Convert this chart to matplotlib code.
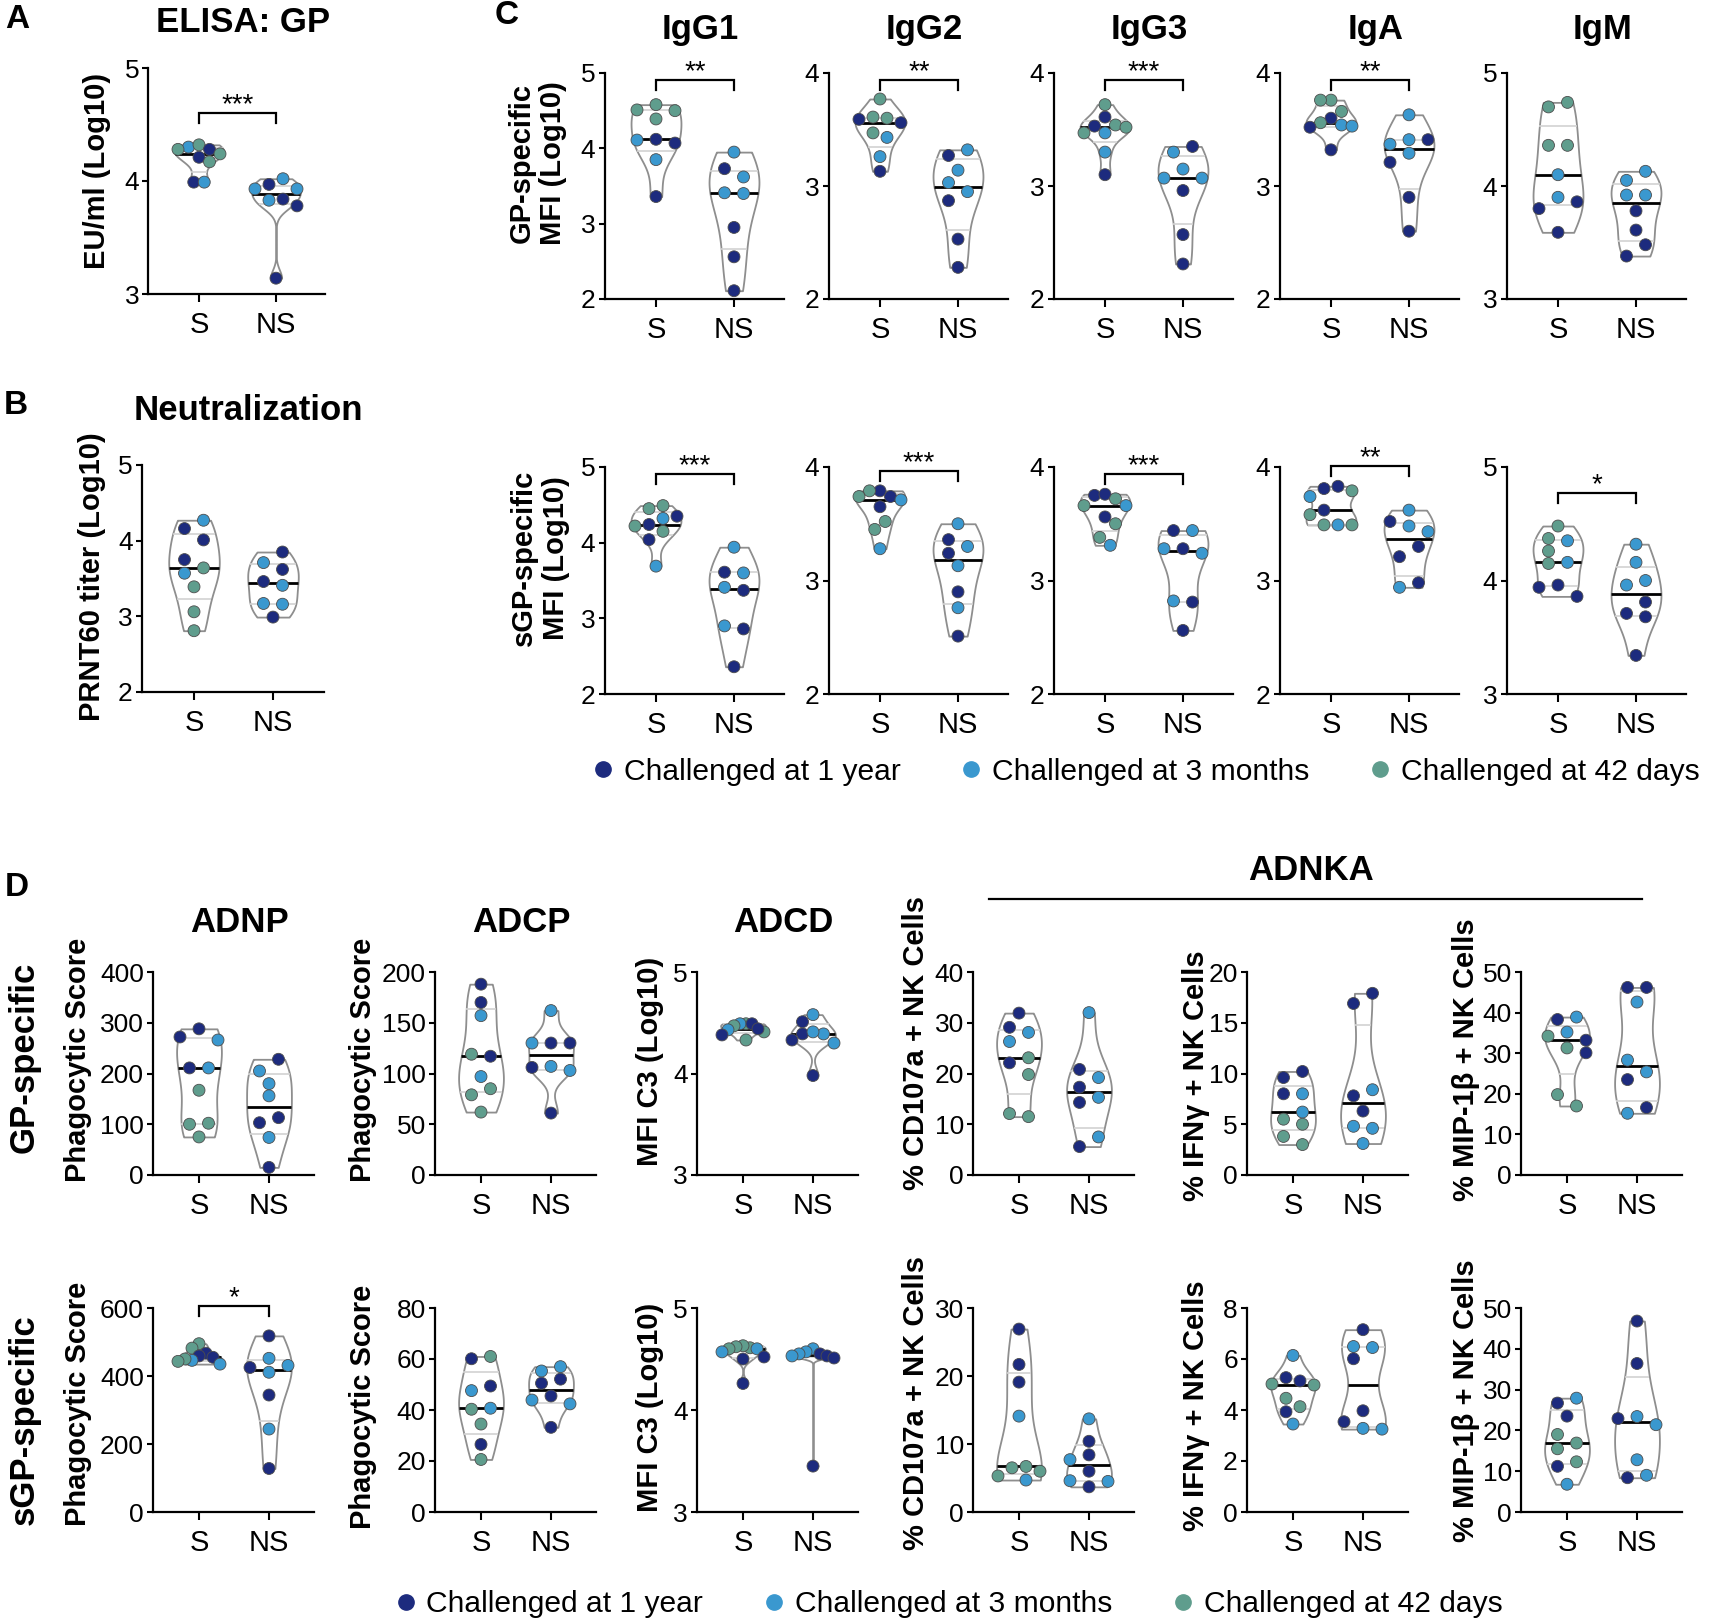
import numpy as np
import matplotlib
matplotlib.use("Agg")
import matplotlib.pyplot as plt
from matplotlib.lines import Line2D
from matplotlib.ticker import FormatStrFormatter
from matplotlib.transforms import offset_copy

plt.rcParams['font.family'] = ['Liberation Sans', 'DejaVu Sans']

W, H = 1711, 1623

# group codes: Y = 1 year, M = 3 months, D = 42 days
GROUP_COLORS = {'Y': '#1d2b7e', 'M': '#3a98cf', 'D': '#5f9d8d'}
GROUP_ORDER = ['Y', 'M', 'D']
GROUP_LABELS = ['Challenged at 1 year', 'Challenged at 3 months', 'Challenged at 42 days']
CATEGORIES = ['S', 'NS']

# ---- A: ELISA GP ----
ELISA_S = [4.30, 4.32, 4.28, 4.28, 4.21, 4.24, 4.17, 3.99, 3.99]
ELISA_S_GRP = "MDYDYDDYM"
ELISA_NS = [4.02, 3.97, 3.93, 3.93, 3.83, 3.84, 3.78, 3.14]
ELISA_NS_GRP = "MYMMMYYY"

# ---- B: neutralization ----
PRNT_S = [4.27, 4.16, 4.01, 3.75, 3.64, 3.57, 3.39, 3.06, 2.81]
PRNT_S_GRP = "MYYYDMDDD"
PRNT_NS = [3.85, 3.71, 3.62, 3.46, 3.41, 3.17, 3.16, 2.99]
PRNT_NS_GRP = "YMYYMMMY"

# ---- C: GP-specific isotypes ----
GP_IGG1_S = [4.51, 4.58, 4.50, 4.39, 4.11, 4.12, 4.07, 3.85, 3.36]
GP_IGG1_S_GRP = "DDDDMYYMY"
GP_IGG1_NS = [3.95, 3.73, 3.62, 3.41, 3.40, 2.95, 2.56, 2.11]
GP_IGG1_NS_GRP = "MYMMMYYY"

GP_IGG2_S = [3.77, 3.60, 3.56, 3.59, 3.61, 3.43, 3.47, 3.26, 3.13]
GP_IGG2_S_GRP = "DDYYDMDMY"
GP_IGG2_NS = [3.32, 3.27, 3.14, 3.03, 2.95, 2.87, 2.53, 2.28]
GP_IGG2_NS_GRP = "MYMMMYYY"

GP_IGG3_S = [3.72, 3.61, 3.54, 3.52, 3.53, 3.47, 3.47, 3.30, 3.10]
GP_IGG3_S_GRP = "DYDDYMDMY"
GP_IGG3_NS = [3.35, 3.30, 3.15, 3.07, 3.07, 2.96, 2.57, 2.31]
GP_IGG3_NS_GRP = "YMMMMYYY"

GP_IGA_S = [3.76, 3.76, 3.66, 3.60, 3.56, 3.54, 3.52, 3.53, 3.32]
GP_IGA_S_GRP = "DDDYDMYMY"
GP_IGA_NS = [3.63, 3.41, 3.41, 3.37, 3.29, 3.21, 2.90, 2.60]
GP_IGA_NS_GRP = "MMYMMYYY"

GP_IGM_S = [4.74, 4.70, 4.36, 4.36, 4.10, 3.90, 3.86, 3.80, 3.59]
GP_IGM_S_GRP = "DDDDMMYYY"
GP_IGM_NS = [4.13, 4.05, 3.92, 3.92, 3.78, 3.61, 3.48, 3.38]
GP_IGM_NS_GRP = "MMMMYYYY"

# ---- C: sGP-specific isotypes ----
SGP_IGG1_S = [4.45, 4.49, 4.35, 4.32, 4.22, 4.24, 4.15, 4.04, 3.69]
SGP_IGG1_S_GRP = "DDYMDYDYM"
SGP_IGG1_NS = [3.94, 3.61, 3.60, 3.41, 3.37, 2.90, 2.86, 2.36]
SGP_IGG1_NS_GRP = "MYMMYMYY"

SGP_IGG2_S = [3.79, 3.79, 3.74, 3.74, 3.71, 3.65, 3.52, 3.45, 3.28]
SGP_IGG2_S_GRP = "YDYDMYDDM"
SGP_IGG2_NS = [3.50, 3.36, 3.30, 3.24, 3.13, 2.90, 2.76, 2.51]
SGP_IGG2_NS_GRP = "MYMYMYMY"

SGP_IGG3_S = [3.75, 3.76, 3.72, 3.66, 3.66, 3.56, 3.50, 3.38, 3.31]
SGP_IGG3_S_GRP = "YYDDMYDDM"
SGP_IGG3_NS = [3.44, 3.44, 3.28, 3.28, 3.24, 2.82, 2.81, 2.56]
SGP_IGG3_NS_GRP = "MYYMMMYY"

SGP_IGA_S = [3.83, 3.81, 3.79, 3.74, 3.58, 3.62, 3.49, 3.49, 3.49]
SGP_IGA_S_GRP = "YYDMDYDMD"
SGP_IGA_NS = [3.62, 3.52, 3.48, 3.43, 3.30, 3.21, 2.94, 2.98]
SGP_IGA_NS_GRP = "MYMMYYMY"

SGP_IGM_S = [4.48, 4.35, 4.37, 4.26, 4.16, 4.15, 3.96, 3.94, 3.86]
SGP_IGM_S_GRP = "DMDDMDYYY"
SGP_IGM_NS = [4.32, 4.16, 4.00, 3.96, 3.81, 3.71, 3.68, 3.34]
SGP_IGM_NS_GRP = "MMMMYYYY"

# ---- D: GP-specific functions ----
GP_ADNP_S = [288, 266, 272, 211, 211, 167, 102, 100, 75]
GP_ADNP_S_GRP = "YMYYMDDDD"
GP_ADNP_NS = [228, 205, 180, 156, 103, 113, 74, 15]
GP_ADNP_NS_GRP = "YMMMYYMY"

GP_ADCP_S = [188, 170, 157, 117, 119, 97, 85, 79, 62]
GP_ADCP_S_GRP = "YYMYDMDDD"
GP_ADCP_NS = [162, 130, 130, 130, 107, 103, 106, 61]
GP_ADCP_NS_GRP = "MYYMMMYY"

GP_ADCD_S = [4.49, 4.49, 4.49, 4.47, 4.43, 4.41, 4.44, 4.38, 4.33]
GP_ADCD_S_GRP = "DMYDMDYYD"
GP_ADCD_NS = [4.58, 4.51, 4.39, 4.39, 4.41, 4.33, 4.30, 3.98]
GP_ADCD_NS_GRP = "MYYMMYMY"

GP_CD107_S = [31.9, 28.1, 29.1, 26.3, 23.1, 22.1, 19.8, 11.5, 12.1]
GP_CD107_S_GRP = "YMYMDYDDD"
GP_CD107_NS = [32.0, 20.8, 19.2, 17.3, 14.3, 15.3, 7.5, 5.6]
GP_CD107_NS_GRP = "MYMYYMMY"

GP_IFNG_S = [10.2, 9.6, 8.0, 8.0, 6.2, 5.5, 5.0, 3.8, 3.0]
GP_IFNG_S_GRP = "YYMYMDDDD"
GP_IFNG_NS = [17.9, 16.9, 8.4, 7.8, 6.3, 4.8, 4.6, 3.1]
GP_IFNG_NS_GRP = "YYMYYMMM"

GP_MIP_S = [38.3, 38.9, 35.2, 34.2, 33.2, 31.3, 30.1, 19.8, 17.0]
GP_MIP_S_GRP = "YMMDYDYDD"
GP_MIP_NS = [46.2, 46.2, 42.6, 28.3, 25.4, 23.5, 16.6, 15.2]
GP_MIP_NS_GRP = "YYMMMYYM"

# ---- D: sGP-specific functions ----
SGP_ADNP_S = [495, 482, 467, 459, 455, 446, 450, 443, 435]
SGP_ADNP_S_GRP = "DDYYYMDDM"
SGP_ADNP_NS = [518, 452, 431, 425, 411, 344, 244, 128]
SGP_ADNP_NS_GRP = "YMMYMYMY"

SGP_ADCP_S = [60.1, 61.0, 49.4, 47.6, 40.7, 40.3, 34.5, 26.5, 20.6]
SGP_ADCP_S_GRP = "YDYMMDDYD"
SGP_ADCP_NS = [57.0, 55.3, 52.1, 50.5, 45.5, 43.9, 42.4, 33.2]
SGP_ADCP_NS_GRP = "MMYYYMMY"

SGP_ADCD_S = [4.61, 4.63, 4.62, 4.60, 4.60, 4.57, 4.52, 4.50, 4.26]
SGP_ADCD_S_GRP = "DDDDMMYYY"
SGP_ADCD_NS = [4.60, 4.57, 4.55, 4.53, 4.55, 4.51, 4.53, 3.45]
SGP_ADCD_NS_GRP = "MMYYMYMY"

SGP_CD107_S = [26.9, 21.7, 19.1, 14.1, 6.5, 6.7, 6.0, 5.3, 4.7]
SGP_CD107_S_GRP = "YYYMDDDDM"
SGP_CD107_NS = [13.7, 10.4, 7.7, 8.4, 6.0, 4.6, 4.5, 3.7]
SGP_CD107_NS_GRP = "MYMYYMMY"

SGP_IFNG_S = [6.14, 5.14, 5.27, 5.02, 4.98, 4.46, 4.13, 3.93, 3.45]
SGP_IFNG_S_GRP = "MYYDDDDYM"
SGP_IFNG_NS = [7.15, 6.45, 6.49, 6.01, 3.97, 3.54, 3.25, 3.28]
SGP_IFNG_NS_GRP = "YMMYYYMM"

SGP_MIP_S = [27.9, 26.7, 23.5, 19.0, 16.9, 15.5, 12.3, 11.2, 6.8]
SGP_MIP_S_GRP = "MYYDDDDYM"
SGP_MIP_NS = [46.8, 36.4, 23.4, 22.9, 21.4, 12.8, 8.4, 9.0]
SGP_MIP_NS_GRP = "YYMYMMYM"

# ---- layout (pixels of the 1711 x 1623 canvas) ----
XPAD_L, XPAD_R = 0.66, 0.64
C_S_PX = [656, 880, 1105, 1331, 1558]
D_S_PX = [199, 481, 743, 1019, 1293, 1567]
C_TOP, C_BOT = (73, 299), (467, 694)
D_TOP, D_BOT = (972, 1175), (1308, 1512)
TICK_FS, CAT_FS, LAB_FS, TITLE_FS = 19, 21, 21, 25

PANELS = [
    dict(d=(ELISA_S, ELISA_S_GRP, ELISA_NS, ELISA_NS_GRP), y=(3, 5, 1), box=(199, 77, 68, 294),
         title="ELISA: GP", title_y=22, stars="***", br=0.80,
         ylabel="EU/ml (Log10)", lab_xy=(97, 171)),
    dict(d=(PRNT_S, PRNT_S_GRP, PRNT_NS, PRNT_NS_GRP), y=(2, 5, 1), box=(194, 79, 465, 692),
         title="Neutralization", title_y=410, title_dx=10,
         ylabel="PRNT60 titer (Log10)", lab_xy=(92, 577)),

    dict(d=(GP_IGG1_S, GP_IGG1_S_GRP, GP_IGG1_NS, GP_IGG1_NS_GRP), y=(2, 5, 1), box=(C_S_PX[0], 78) + C_TOP,
         title="IgG1", title_y=30, stars="**", br=0.97,
         ylabel="GP-specific\nMFI (Log10)", lab_xy=(537, 163)),
    dict(d=(GP_IGG2_S, GP_IGG2_S_GRP, GP_IGG2_NS, GP_IGG2_NS_GRP), y=(2, 4, 1), box=(C_S_PX[1], 78) + C_TOP,
         title="IgG2", title_y=30, stars="**", br=0.97),
    dict(d=(GP_IGG3_S, GP_IGG3_S_GRP, GP_IGG3_NS, GP_IGG3_NS_GRP), y=(2, 4, 1), box=(C_S_PX[2], 78) + C_TOP,
         title="IgG3", title_y=30, stars="***", br=0.97),
    dict(d=(GP_IGA_S, GP_IGA_S_GRP, GP_IGA_NS, GP_IGA_NS_GRP), y=(2, 4, 1), box=(C_S_PX[3], 78) + C_TOP,
         title="IgA", title_y=30, stars="**", br=0.97),
    dict(d=(GP_IGM_S, GP_IGM_S_GRP, GP_IGM_NS, GP_IGM_NS_GRP), y=(3, 5, 1), box=(C_S_PX[4], 78) + C_TOP,
         title="IgM", title_y=30),

    dict(d=(SGP_IGG1_S, SGP_IGG1_S_GRP, SGP_IGG1_NS, SGP_IGG1_NS_GRP), y=(2, 5, 1), box=(C_S_PX[0], 78) + C_BOT,
         stars="***", br=0.968, ylabel="sGP-specific\nMFI (Log10)", lab_xy=(540, 558)),
    dict(d=(SGP_IGG2_S, SGP_IGG2_S_GRP, SGP_IGG2_NS, SGP_IGG2_NS_GRP), y=(2, 4, 1), box=(C_S_PX[1], 78) + C_BOT,
         stars="***", br=0.982),
    dict(d=(SGP_IGG3_S, SGP_IGG3_S_GRP, SGP_IGG3_NS, SGP_IGG3_NS_GRP), y=(2, 4, 1), box=(C_S_PX[2], 78) + C_BOT,
         stars="***", br=0.968),
    dict(d=(SGP_IGA_S, SGP_IGA_S_GRP, SGP_IGA_NS, SGP_IGA_NS_GRP), y=(2, 4, 1), box=(C_S_PX[3], 78) + C_BOT,
         stars="**", br=1.004),
    dict(d=(SGP_IGM_S, SGP_IGM_S_GRP, SGP_IGM_NS, SGP_IGM_NS_GRP), y=(3, 5, 1), box=(C_S_PX[4], 78) + C_BOT,
         stars="*", br=0.886),

    dict(d=(GP_ADNP_S, GP_ADNP_S_GRP, GP_ADNP_NS, GP_ADNP_NS_GRP), y=(0, 400, 100), box=(D_S_PX[0], 70) + D_TOP,
         title="ADNP", title_y=922, ylabel="Phagocytic Score", lab_xy=(78, 1060)),
    dict(d=(GP_ADCP_S, GP_ADCP_S_GRP, GP_ADCP_NS, GP_ADCP_NS_GRP), y=(0, 200, 50), box=(D_S_PX[1], 70) + D_TOP,
         title="ADCP", title_y=922, ylabel="Phagocytic Score", lab_xy=(363, 1060)),
    dict(d=(GP_ADCD_S, GP_ADCD_S_GRP, GP_ADCD_NS, GP_ADCD_NS_GRP), y=(3, 5, 1), box=(D_S_PX[2], 70) + D_TOP,
         title="ADCD", title_y=922, ylabel="MFI C3 (Log10)", lab_xy=(650, 1061)),
    dict(d=(GP_CD107_S, GP_CD107_S_GRP, GP_CD107_NS, GP_CD107_NS_GRP), y=(0, 40, 10), box=(D_S_PX[3], 70) + D_TOP,
         ylabel="% CD107a + NK Cells", lab_xy=(916, 1043)),
    dict(d=(GP_IFNG_S, GP_IFNG_S_GRP, GP_IFNG_NS, GP_IFNG_NS_GRP), y=(0, 20, 5), box=(D_S_PX[4], 70) + D_TOP,
         ylabel="% IFNγ + NK Cells", lab_xy=(1196, 1076)),
    dict(d=(GP_MIP_S, GP_MIP_S_GRP, GP_MIP_NS, GP_MIP_NS_GRP), y=(0, 50, 10), box=(D_S_PX[5], 70) + D_TOP,
         ylabel="% MIP-1β + NK Cells", lab_xy=(1466, 1060)),

    dict(d=(SGP_ADNP_S, SGP_ADNP_S_GRP, SGP_ADNP_NS, SGP_ADNP_NS_GRP), y=(0, 600, 200), box=(D_S_PX[0], 70) + D_BOT,
         stars="*", br=1.01, ylabel="Phagocytic Score", lab_xy=(78, 1404)),
    dict(d=(SGP_ADCP_S, SGP_ADCP_S_GRP, SGP_ADCP_NS, SGP_ADCP_NS_GRP), y=(0, 80, 20), box=(D_S_PX[1], 70) + D_BOT,
         ylabel="Phagocytic Score", lab_xy=(363, 1407)),
    dict(d=(SGP_ADCD_S, SGP_ADCD_S_GRP, SGP_ADCD_NS, SGP_ADCD_NS_GRP), y=(3, 5, 1), box=(D_S_PX[2], 70) + D_BOT,
         ylabel="MFI C3 (Log10)", lab_xy=(650, 1407)),
    dict(d=(SGP_CD107_S, SGP_CD107_S_GRP, SGP_CD107_NS, SGP_CD107_NS_GRP), y=(0, 30, 10), box=(D_S_PX[3], 70) + D_BOT,
         ylabel="% CD107a + NK Cells", lab_xy=(916, 1403)),
    dict(d=(SGP_IFNG_S, SGP_IFNG_S_GRP, SGP_IFNG_NS, SGP_IFNG_NS_GRP), y=(0, 8, 2), box=(D_S_PX[4], 70) + D_BOT,
         ylabel="% IFNγ + NK Cells", lab_xy=(1196, 1406)),
    dict(d=(SGP_MIP_S, SGP_MIP_S_GRP, SGP_MIP_NS, SGP_MIP_NS_GRP), y=(0, 50, 10), box=(D_S_PX[5], 70) + D_BOT,
         ylabel="% MIP-1β + NK Cells", lab_xy=(1466, 1401)),
]

fig = plt.figure(figsize=(W / 100, H / 100), dpi=100)


def fxy(x, y):
    return x / W, 1 - y / H


def swarm(vals, py, px, diam=12.0, step=19.0, reach=21.0):
    # simple row-style beeswarm in pixel space, returns offsets in data x units
    y = vals * py
    n = len(vals)
    order = np.argsort(-vals, kind="stable")
    x = np.zeros(n)
    placed = []
    for k, i in enumerate(order):
        near = [j for j in placed if abs(y[i] - y[j]) < diam]
        cands = {0.0} | {x[j] + step for j in near} | {x[j] - step for j in near}
        cands = sorted(cands, key=lambda c: (round(abs(c), 6), c if k % 2 else -c))
        for c in cands:
            if all(abs(c - x[j]) >= step - 1e-6 for j in near):
                x[i] = c
                break
        placed.append(i)
    # centre every chain of touching points
    lab = list(range(n))

    def root(a):
        while lab[a] != a:
            a = lab[a]
        return a
    for i in range(n):
        for j in range(i + 1, n):
            if abs(y[i] - y[j]) < diam:
                lab[root(i)] = root(j)
    roots = np.array([root(i) for i in range(n)])
    for r in set(roots):
        m = roots == r
        x[m] -= (x[m].max() + x[m].min()) / 2
    big = np.abs(x).max()
    if big > reach:
        x *= reach / big
    return x / px


def violin(ax, pos, vals, half=0.32):
    n = len(vals)
    q1, med, q3 = np.percentile(vals, [25, 50, 75], method="weibull")
    sd = vals.std(ddof=1)
    spread = min(sd, (q3 - q1) / 1.34) if q3 > q1 else sd
    bw = 0.9 * spread * n ** -0.2
    grid = np.linspace(vals.min(), vals.max(), 400)
    dens = np.exp(-0.5 * ((grid[:, None] - vals[None, :]) / bw) ** 2).sum(axis=1)
    w = dens / dens.max() * half
    ax.fill_betweenx(grid, pos - w, pos + w, facecolor="white", edgecolor="#8e8e8e",
                     linewidth=1.3, zorder=2)
    for q, col, lw, z in [(q1, "#d2d2d2", 1.2, 3), (q3, "#d2d2d2", 1.2, 3), (med, "black", 2.0, 3.5)]:
        wq = np.interp(q, grid, w)
        ax.plot([pos - wq, pos + wq], [q, q], color=col, lw=lw, zorder=z, solid_capstyle="butt")


for p in PANELS:
    s_px, sp, top, bot = p["box"]
    left = s_px - XPAD_L * sp
    right = s_px + (1 + XPAD_R) * sp
    ax = fig.add_axes([left / W, 1 - bot / H, (right - left) / W, (bot - top) / H])
    ymin, ymax, ystep = p["y"]
    ax.set_xlim(-XPAD_L, 1 + XPAD_R)
    ax.set_ylim(ymin, ymax)
    ax.set_yticks(np.arange(ymin, ymax + ystep / 2, ystep))
    ax.yaxis.set_major_formatter(FormatStrFormatter("%g"))
    ax.set_xticks([0, 1])
    ax.set_xticklabels(CATEGORIES)
    for side in ["top", "right"]:
        ax.spines[side].set_visible(False)
    for side in ["left", "bottom"]:
        ax.spines[side].set_linewidth(1.6)
    ax.tick_params(axis="y", length=4.5, width=1.5, labelsize=TICK_FS, pad=2)
    ax.tick_params(axis="x", length=6, width=1.5, labelsize=CAT_FS, pad=6)
    ax.patch.set_alpha(0)

    py = (bot - top) / (ymax - ymin)
    s_vals, s_grp, ns_vals, ns_grp = p["d"]
    for pos, vals, grp in [(0, s_vals, s_grp), (1, ns_vals, ns_grp)]:
        vals = np.asarray(vals, dtype=float)
        violin(ax, pos, vals)
        xs = swarm(vals, py, sp)
        ax.scatter(pos + xs, vals, s=74, c=[GROUP_COLORS[g] for g in grp],
                   edgecolors="#4d4d4d", linewidths=0.6, zorder=4, clip_on=False)

    if p.get("stars"):
        tr = ax.get_xaxis_transform()
        drop = 10 / (bot - top)
        br = p["br"]
        ax.plot([0, 0, 1, 1], [br - drop, br, br, br - drop], transform=tr, color="black",
                lw=1.6, clip_on=False, solid_joinstyle="miter")
        ax.text(0.5, br, p["stars"], transform=offset_copy(tr, fig=fig, y=1, units="dots"),
                ha="center", va="baseline", fontsize=20)

    if p.get("title"):
        cx = (left + right) / 2 + 6 + p.get("title_dx", 0)
        fig.text(*fxy(cx, p["title_y"]), p["title"], ha="center", va="center",
                 fontsize=TITLE_FS, fontweight="bold")

    if p.get("ylabel"):
        fig.text(*fxy(*p["lab_xy"]), p["ylabel"], rotation=90, ha="center", va="center",
                 fontsize=LAB_FS, fontweight="bold", linespacing=1.15)

# panel letters
for letter, (x, y) in zip("ABCD", [(17, 19), (16, 405), (507, 15), (17, 887)]):
    fig.text(*fxy(x, y), letter, ha="center", va="center", fontsize=24, fontweight="bold")

# row labels of D
fig.text(*fxy(24, 1057), "GP-specific", rotation=90, ha="center", va="center",
         fontsize=25, fontweight="bold")
fig.text(*fxy(24, 1420), "sGP-specific", rotation=90, ha="center", va="center",
         fontsize=25, fontweight="bold")

# ADNKA group header
fig.text(*fxy(1311, 870), "ADNKA", ha="center", va="center", fontsize=TITLE_FS, fontweight="bold")
fig.add_artist(Line2D([989 / W, 1642 / W], [1 - 899 / H] * 2, color="black", lw=1.6))

# legends
handles = [Line2D([], [], marker="o", ls="none", markersize=11,
                  markerfacecolor=GROUP_COLORS[g], markeredgecolor=GROUP_COLORS[g]) for g in GROUP_ORDER]
for x0, y0 in [(592, 772), (395, 1604)]:
    fig.legend(handles, GROUP_LABELS, loc="center left", bbox_to_anchor=fxy(x0, y0), ncol=3,
               frameon=False, fontsize=21.6, handlelength=0.7, handletextpad=0.35,
               columnspacing=2.0, borderpad=0, borderaxespad=0)

fig.savefig("out.png", dpi=100, facecolor="white")
